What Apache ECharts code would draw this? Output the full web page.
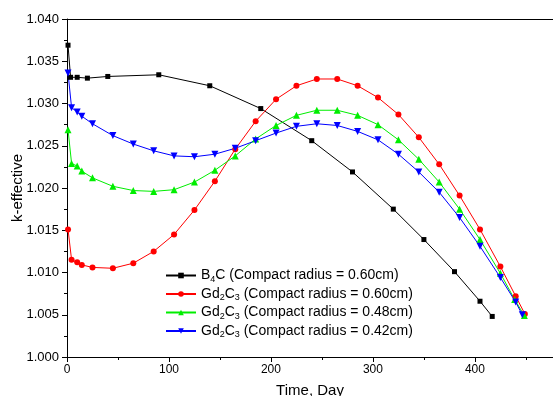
<!DOCTYPE html>
<html><head><meta charset="utf-8">
<script src="https://cdn.jsdelivr.net/npm/echarts@6/dist/echarts.min.js"></script>
<style>html,body{margin:0;padding:0;background:#fff}#c{width:553px;height:396px}</style>
</head><body><div id="c"></div>
<script>
const b4cDays = [1, 3.5, 10, 20, 40, 90, 140, 190, 240, 280, 320, 350, 380, 405, 417];
const b4cK = [1.0369, 1.0331, 1.0331, 1.0330, 1.0332, 1.0334, 1.0321, 1.0294, 1.0256, 1.0219, 1.0175, 1.0139, 1.0101, 1.0066, 1.0048];

const gd60Days = [1, 4.5, 10, 14.5, 25, 45, 65, 85, 105, 125, 145, 165, 185, 205, 225, 245, 265, 285, 305, 325, 345, 365, 385, 405, 425, 440, 449];
const gd60K = [1.0151, 1.0115, 1.0112, 1.0109, 1.0106, 1.0105, 1.0111, 1.0125, 1.0145, 1.0174, 1.0208, 1.0246, 1.0279, 1.0305, 1.0321, 1.0329, 1.0329, 1.0321, 1.0307, 1.0287, 1.0260, 1.0228, 1.0191, 1.0151, 1.0107, 1.0072, 1.0051];

const gd48Days = [1, 4.5, 10, 14.5, 25, 45, 65, 85, 105, 125, 145, 165, 185, 205, 225, 245, 265, 285, 305, 325, 345, 365, 385, 405, 425, 439, 448.5];
const gd48K = [1.0269, 1.0229, 1.0226, 1.0220, 1.0212, 1.0202, 1.0197, 1.0196, 1.0198, 1.0207, 1.0221, 1.0238, 1.0258, 1.0274, 1.0286, 1.0292, 1.0292, 1.0286, 1.0275, 1.0257, 1.0234, 1.0207, 1.0175, 1.0139, 1.0099, 1.0068, 1.0049];

const gd42Days = [1, 4.5, 10, 14.5, 25, 45, 65, 85, 105, 125, 145, 165, 185, 205, 225, 245, 265, 285, 305, 325, 345, 365, 385, 405, 425, 440, 446.5];
const gd42K = [1.0336, 1.0295, 1.0290, 1.0285, 1.0276, 1.0262, 1.0252, 1.0244, 1.0238, 1.0237, 1.0240, 1.0247, 1.0256, 1.0265, 1.0273, 1.0276, 1.0274, 1.0267, 1.0257, 1.0240, 1.0219, 1.0195, 1.0165, 1.0131, 1.0094, 1.0065, 1.0050];

const seriesNames = ['B4C (0.60)', 'Gd2C3 (0.60)', 'Gd2C3 (0.48)', 'Gd2C3 (0.42)'];
const legendLabels = [
  '{n|B}{s|4}{n|C (Compact radius = 0.60cm)}',
  '{n|Gd}{s|2}{n|C}{s|3}{n| (Compact radius = 0.60cm)}',
  '{n|Gd}{s|2}{n|C}{s|3}{n| (Compact radius = 0.48cm)}',
  '{n|Gd}{s|2}{n|C}{s|3}{n| (Compact radius = 0.42cm)}'
];

const zip = (a, b) => a.map((v, i) => [v, b[i]]);
const font = 'Liberation Sans, Arial, sans-serif';

const chart = echarts.init(document.getElementById('c'), null, {renderer: 'canvas'});
function mk(name, data, color, symbol, size, rot) {
  return {
    name, type: 'line', data, symbol, symbolSize: size, symbolRotate: rot || 0,
    lineStyle: {color, width: 1}, itemStyle: {color},
    showAllSymbol: true, animation: false, z: 3
  };
}
chart.setOption({
  animation: false,
  backgroundColor: '#fff',
  grid: {left: 67, right: 0, top: 19, bottom: 39, containLabel: false, outerBoundsMode: 'none'},
  legend: {
    orient: 'vertical', left: 160, top: 262, itemGap: 1.5,
    itemWidth: 30, itemHeight: 7,
    data: seriesNames,
    formatter: (n) => legendLabels[seriesNames.indexOf(n)],
    textStyle: {
      fontFamily: font, fontSize: 14, color: '#000',
      rich: {
        n: {fontFamily: font, fontSize: 14, color: '#000', lineHeight: 15},
        s: {fontFamily: font, fontSize: 9, color: '#000', padding: [8, 0, 0, 0], lineHeight: 11}
      }
    }
  },
  xAxis: [{
    type: 'value', min: 0, max: 476.6, interval: 100,
    name: 'Time, Day', nameLocation: 'middle', nameGap: 26,
    nameTextStyle: {fontFamily: font, fontSize: 15, color: '#000'},
    axisLine: {lineStyle: {color: '#000', width: 1}},
    axisTick: {show: true, length: 5, inside: false, lineStyle: {color: '#000'}},
    minorTick: {show: true, splitNumber: 2, length: 3, lineStyle: {color: '#000'}},
    axisLabel: {fontFamily: font, fontSize: 12, color: '#000', margin: 7, showMaxLabel: false},
    splitLine: {show: false}
  }, {
    type: 'value', position: 'top', min: 0, max: 476.6,
    axisLine: {show: true, lineStyle: {color: '#000', width: 1}},
    axisTick: {show: false}, axisLabel: {show: false}, splitLine: {show: false}
  }],
  yAxis: {
    type: 'value', min: 1.000, max: 1.040, interval: 0.005,
    name: 'k-effective', nameLocation: 'middle', nameGap: 42, nameMoveOverlap: false,
    nameTextStyle: {fontFamily: font, fontSize: 15, color: '#000'},
    axisLine: {show: true, lineStyle: {color: '#000', width: 1}},
    axisTick: {show: true, length: 5, lineStyle: {color: '#000'}},
    minorTick: {show: true, splitNumber: 2, length: 3, lineStyle: {color: '#000'}},
    axisLabel: {fontFamily: font, fontSize: 13, color: '#000', margin: 8,
      formatter: (v) => v.toFixed(3)},
    splitLine: {show: false}
  },
  series: [
    mk(seriesNames[0], zip(b4cDays, b4cK), '#000000', 'rect', 5),
    mk(seriesNames[1], zip(gd60Days, gd60K), '#ff0000', 'circle', 6),
    mk(seriesNames[2], zip(gd48Days, gd48K), '#00ee00', 'triangle', 7),
    mk(seriesNames[3], zip(gd42Days, gd42K), '#0000ff', 'triangle', 7, 180)
  ]
});
</script></body></html>
